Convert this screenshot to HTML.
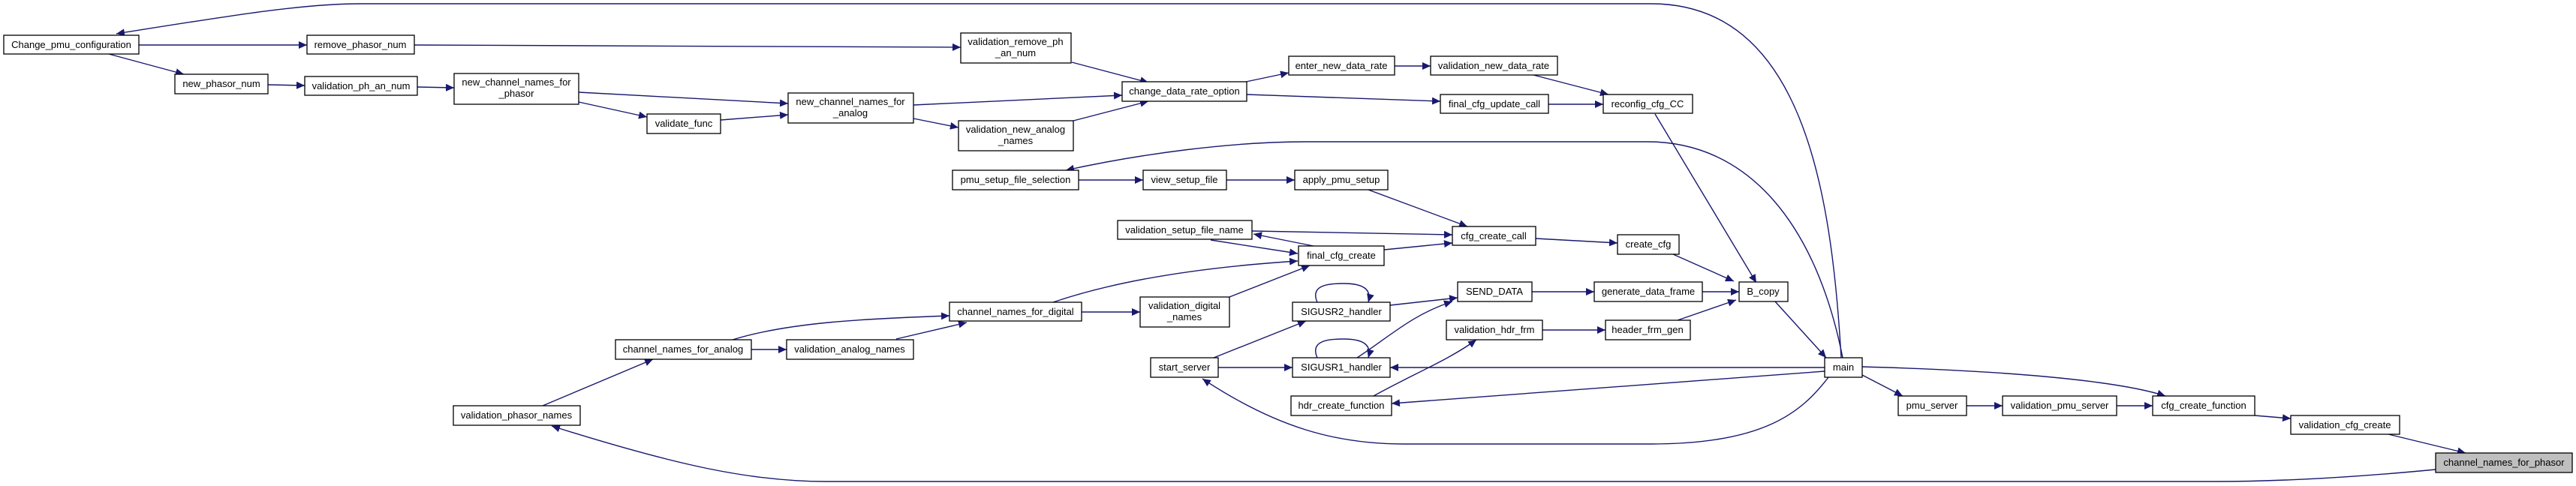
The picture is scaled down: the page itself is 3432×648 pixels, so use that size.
<!DOCTYPE html>
<html><head><meta charset="utf-8"><style>
html,body{margin:0;padding:0;background:#fff;}
svg{display:block}
text{font-family:"Liberation Sans",Arial,sans-serif;font-size:13px;fill:#000;text-anchor:middle}
.b{fill:#fff;stroke:#000;stroke-width:1.3}
.e{fill:none;stroke:#191970;stroke-width:1.4}
</style></head><body>
<svg width="3432" height="648" viewBox="0 0 3432 648" xmlns="http://www.w3.org/2000/svg">
<defs><marker id="a" markerUnits="userSpaceOnUse" markerWidth="12" markerHeight="10" refX="11" refY="5" orient="auto"><path d="M0,0 L11,5 L0,10 z" fill="#191970"/></marker></defs>
<g class="e" marker-end="url(#a)">
<path d="M2453 477 C2440 250 2400 5 2200 5 L480 5 C400 5 300 22 155 45"/>
<path d="M2455 477 C2420 300 2330 189 2195 189 L1740 189 C1640 189 1520 205 1420 227"/>
<path d="M185 60 L409 60"/>
<path d="M145 72 L245 99"/>
<path d="M552 60 L1280 63"/>
<path d="M357 113 L406 114"/>
<path d="M556 116 L605 117"/>
<path d="M771 123 L1050 138"/>
<path d="M771 136 L862 156"/>
<path d="M960 160 L1050 153"/>
<path d="M1217 140 L1495 127"/>
<path d="M1217 158 L1277 170"/>
<path d="M1428 83 L1530 110"/>
<path d="M1430 161 L1530 135"/>
<path d="M1660 109 L1717 97"/>
<path d="M1661 126 L1919 135"/>
<path d="M1858 88 L1906 88"/>
<path d="M2043 100 L2143 126"/>
<path d="M2063 139 L2136 139"/>
<path d="M2205 152 L2340 377"/>
<path d="M1437 240 L1523 240"/>
<path d="M1634 240 L1725 240"/>
<path d="M1823 253 L1955 302"/>
<path d="M1668 308 L1935 313"/>
<path d="M2046 318 L2155 324"/>
<path d="M1750 328 L1670 312"/>
<path d="M1613 320 L1729 338"/>
<path d="M1844 333 L1935 324"/>
<path d="M1403 403 C1500 370 1620 355 1729 348"/>
<path d="M1638 396 L1745 354"/>
<path d="M1441 416 L1519 416"/>
<path d="M976 453 C1050 430 1150 425 1265 421"/>
<path d="M1194 452 L1288 430"/>
<path d="M1001 466 L1048 466"/>
<path d="M723 541 L870 479"/>
<path d="M3245 626 C3100 640 3000 642 2950 642 L1100 642 C1000 642 900 620 735 568"/>
<path d="M1755 403 C1745 380 1770 378 1790 378 C1815 378 1828 385 1823 403"/>
<path d="M1755 477 C1745 454 1770 452 1790 452 C1815 452 1828 459 1823 477"/>
<path d="M1852 407 L1942 397"/>
<path d="M1808 477 C1850 450 1880 420 1935 402"/>
<path d="M2041 389 L2124 389"/>
<path d="M2268 389 L2317 389"/>
<path d="M2235 427 L2313 400"/>
<path d="M2229 339 L2310 375"/>
<path d="M2055 440 L2139 440"/>
<path d="M1830 528 C1880 500 1930 480 1967 453"/>
<path d="M1617 477 L1740 428"/>
<path d="M1623 490 L1722 490"/>
<path d="M2431 490 L1852 490"/>
<path d="M2431 495 L1854 538"/>
<path d="M2436 503 C2400 550 2350 592 2200 592 L1870 592 C1780 592 1700 570 1602 505"/>
<path d="M2365 402 L2433 477"/>
<path d="M2481 500 L2535 528"/>
<path d="M2481 489 C2700 495 2830 510 2885 528"/>
<path d="M2620 541 L2668 541"/>
<path d="M2820 541 L2868 541"/>
<path d="M3004 554 L3052 558"/>
<path d="M3182 579 L3285 604"/>
</g>
<g>
<rect class="b" x="5" y="47" width="180" height="25"/><text x="95" y="64">Change_pmu_configuration</text>
<rect class="b" x="409" y="47" width="143" height="25"/><text x="480" y="64">remove_phasor_num</text>
<rect class="b" x="233" y="99" width="124" height="26"/><text x="295" y="116">new_phasor_num</text>
<rect class="b" x="406" y="102" width="150" height="25"/><text x="481" y="119">validation_ph_an_num</text>
<rect class="b" x="605" y="98" width="166" height="41"/><text x="688" y="114">new_channel_names_for</text><text x="688" y="129">_phasor</text>
<rect class="b" x="862" y="152" width="98" height="26"/><text x="911" y="169">validate_func</text>
<rect class="b" x="1050" y="124" width="167" height="40"/><text x="1133" y="140">new_channel_names_for</text><text x="1133" y="155">_analog</text>
<rect class="b" x="1280" y="44" width="147" height="40"/><text x="1353" y="60">validation_remove_ph</text><text x="1353" y="75">_an_num</text>
<rect class="b" x="1495" y="109" width="166" height="26"/><text x="1578" y="126">change_data_rate_option</text>
<rect class="b" x="1277" y="161" width="153" height="40"/><text x="1353" y="177">validation_new_analog</text><text x="1353" y="192">_names</text>
<rect class="b" x="1717" y="75" width="141" height="25"/><text x="1787" y="92">enter_new_data_rate</text>
<rect class="b" x="1906" y="75" width="169" height="25"/><text x="1990" y="92">validation_new_data_rate</text>
<rect class="b" x="1919" y="126" width="144" height="25"/><text x="1991" y="143">final_cfg_update_call</text>
<rect class="b" x="2136" y="126" width="119" height="25"/><text x="2195" y="143">reconfig_cfg_CC</text>
<rect class="b" x="1269" y="227" width="168" height="26"/><text x="1353" y="244">pmu_setup_file_selection</text>
<rect class="b" x="1523" y="227" width="111" height="26"/><text x="1578" y="244">view_setup_file</text>
<rect class="b" x="1725" y="227" width="124" height="26"/><text x="1787" y="244">apply_pmu_setup</text>
<rect class="b" x="1489" y="294" width="179" height="25"/><text x="1578" y="311">validation_setup_file_name</text>
<rect class="b" x="1935" y="302" width="111" height="25"/><text x="1990" y="319">cfg_create_call</text>
<rect class="b" x="2155" y="313" width="82" height="26"/><text x="2196" y="330">create_cfg</text>
<rect class="b" x="1730" y="328" width="114" height="26"/><text x="1787" y="345">final_cfg_create</text>
<rect class="b" x="1265" y="403" width="176" height="25"/><text x="1353" y="420">channel_names_for_digital</text>
<rect class="b" x="1519" y="396" width="119" height="40"/><text x="1578" y="412">validation_digital</text><text x="1578" y="427">_names</text>
<rect class="b" x="1722" y="403" width="130" height="25"/><text x="1787" y="420">SIGUSR2_handler</text>
<rect class="b" x="1722" y="477" width="130" height="26"/><text x="1787" y="494">SIGUSR1_handler</text>
<rect class="b" x="1533" y="477" width="90" height="26"/><text x="1578" y="494">start_server</text>
<rect class="b" x="1720" y="528" width="134" height="26"/><text x="1787" y="545">hdr_create_function</text>
<rect class="b" x="1942" y="376" width="99" height="26"/><text x="1991" y="393">SEND_DATA</text>
<rect class="b" x="2124" y="376" width="144" height="26"/><text x="2196" y="393">generate_data_frame</text>
<rect class="b" x="2317" y="376" width="65" height="26"/><text x="2349" y="393">B_copy</text>
<rect class="b" x="1927" y="427" width="128" height="26"/><text x="1991" y="444">validation_hdr_frm</text>
<rect class="b" x="2139" y="427" width="113" height="26"/><text x="2195" y="444">header_frm_gen</text>
<rect class="b" x="820" y="453" width="181" height="26"/><text x="910" y="470">channel_names_for_analog</text>
<rect class="b" x="1048" y="453" width="169" height="26"/><text x="1132" y="470">validation_analog_names</text>
<rect class="b" x="604" y="541" width="169" height="26"/><text x="688" y="558">validation_phasor_names</text>
<rect class="b" x="2431" y="477" width="50" height="26"/><text x="2456" y="494">main</text>
<rect class="b" x="2529" y="528" width="91" height="26"/><text x="2574" y="545">pmu_server</text>
<rect class="b" x="2668" y="528" width="152" height="26"/><text x="2744" y="545">validation_pmu_server</text>
<rect class="b" x="2868" y="528" width="136" height="26"/><text x="2936" y="545">cfg_create_function</text>
<rect class="b" x="3052" y="554" width="145" height="25"/><text x="3124" y="571">validation_cfg_create</text>
<rect x="3245" y="604" width="182" height="26" fill="#bfbfbf" stroke="#000" stroke-width="1.3"/><text x="3336" y="621">channel_names_for_phasor</text>
</g>
</svg>
</body></html>
